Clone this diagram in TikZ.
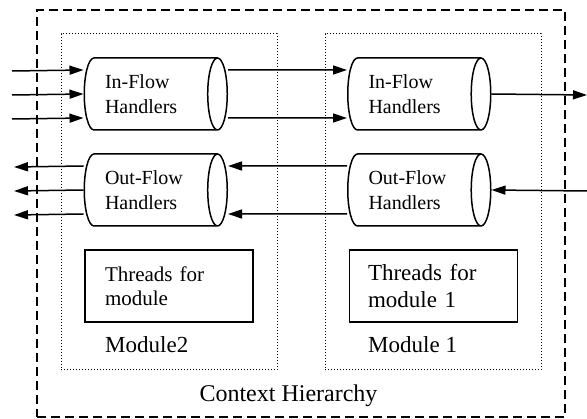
\documentclass[tikz,border=0pt]{standalone}
\usepackage{fontspec}
\setmainfont{Liberation Serif}
\usetikzlibrary{shapes.geometric,arrows.meta}

\begin{document}
\begin{tikzpicture}[x=1pt,y=-1pt,
    handler/.style={cylinder,draw,line width=1.5pt,shape aspect=0.5,minimum height=143pt,minimum width=72pt,text width=91pt,align=left,inner sep=0pt,font=\fontsize{20}{25}\selectfont},
    threadbox/.style={draw,line width=1.5pt,minimum width=168pt,minimum height=72pt,text width=128pt,align=left,inner sep=0pt},
    module/.style={draw,dotted,line width=1pt,minimum width=216pt,minimum height=336pt,inner sep=0pt},
    context/.style={draw,dash pattern=on 9pt off 5pt,line width=1.5pt,minimum width=528pt,minimum height=407pt,inner sep=0pt},
    flow/.style={-{Triangle[length=14pt,width=9pt]},line width=1.5pt}
  ]
    \useasboundingbox (0,0) rectangle (587,419);

    % Context and module frames
    \node[context] (ctx) at (301,213.5) {};
    \node[module] (modL) at (169,202) {};
    \node[module] (modR) at (433,202) {};

    % Handlers
    \node[handler] (inL) at (150.5,94) {In-Flow\\Handlers};
    \node[handler] (inR) at (414,94) {In-Flow\\Handlers};
    \node[handler] (outL) at (150.5,190) {Out-Flow\\Handlers};
    \node[handler] (outR) at (414,190) {Out-Flow\\Handlers};

    % Thread boxes
    \node[threadbox,font=\fontsize{21}{24}\selectfont] (thrL) at (169,286) {Threads for\\module};
    \node[threadbox,text width=131pt,font=\fontsize{23}{27}\selectfont] (thrR) at (433.5,286) {Threads for\\module 1};

    % Labels
    \node[anchor=base west,inner sep=0pt,font=\fontsize{23}{28}\selectfont] (lblL) at (105,353) {Module2};
    \node[anchor=base west,inner sep=0pt,font=\fontsize{23}{28}\selectfont] (lblR) at (368,353) {Module 1};
    \node[anchor=base,inner sep=0pt,font=\fontsize{24}{29}\selectfont] (lblC) at (288.5,402) {Context Hierarchy};

    % Free ends
    \coordinate (inSrc) at (12,95);
    \coordinate (outDst) at (14,191);
    \coordinate (inDst) at (587,95);
    \coordinate (outSrc) at (587,191);

    % In-flow
    \draw[flow] ([yshift=24pt]inSrc) -- ([yshift=24pt]inL.west);
    \draw[flow] (inSrc) -- (inL.west);
    \draw[flow] ([yshift=-24pt]inSrc) -- ([yshift=-24pt]inL.west);
    \draw[flow] ([yshift=24pt]inL.east) -- ([yshift=24pt]inR.west);
    \draw[flow] ([yshift=-24pt]inL.east) -- ([yshift=-24pt]inR.west);
    \draw[flow] (inR.east) -- (inDst);

    % Out-flow
    \draw[flow] (outSrc) -- (outR.east);
    \draw[flow] ([yshift=24pt]outR.west) -- ([yshift=24pt]outL.east);
    \draw[flow] ([yshift=-24pt]outR.west) -- ([yshift=-24pt]outL.east);
    \draw[flow] ([yshift=24pt]outL.west) -- ([yshift=24pt]outDst);
    \draw[flow] (outL.west) -- (outDst);
    \draw[flow] ([yshift=-24pt]outL.west) -- ([yshift=-24pt]outDst);
  \end{tikzpicture}
\end{document}
